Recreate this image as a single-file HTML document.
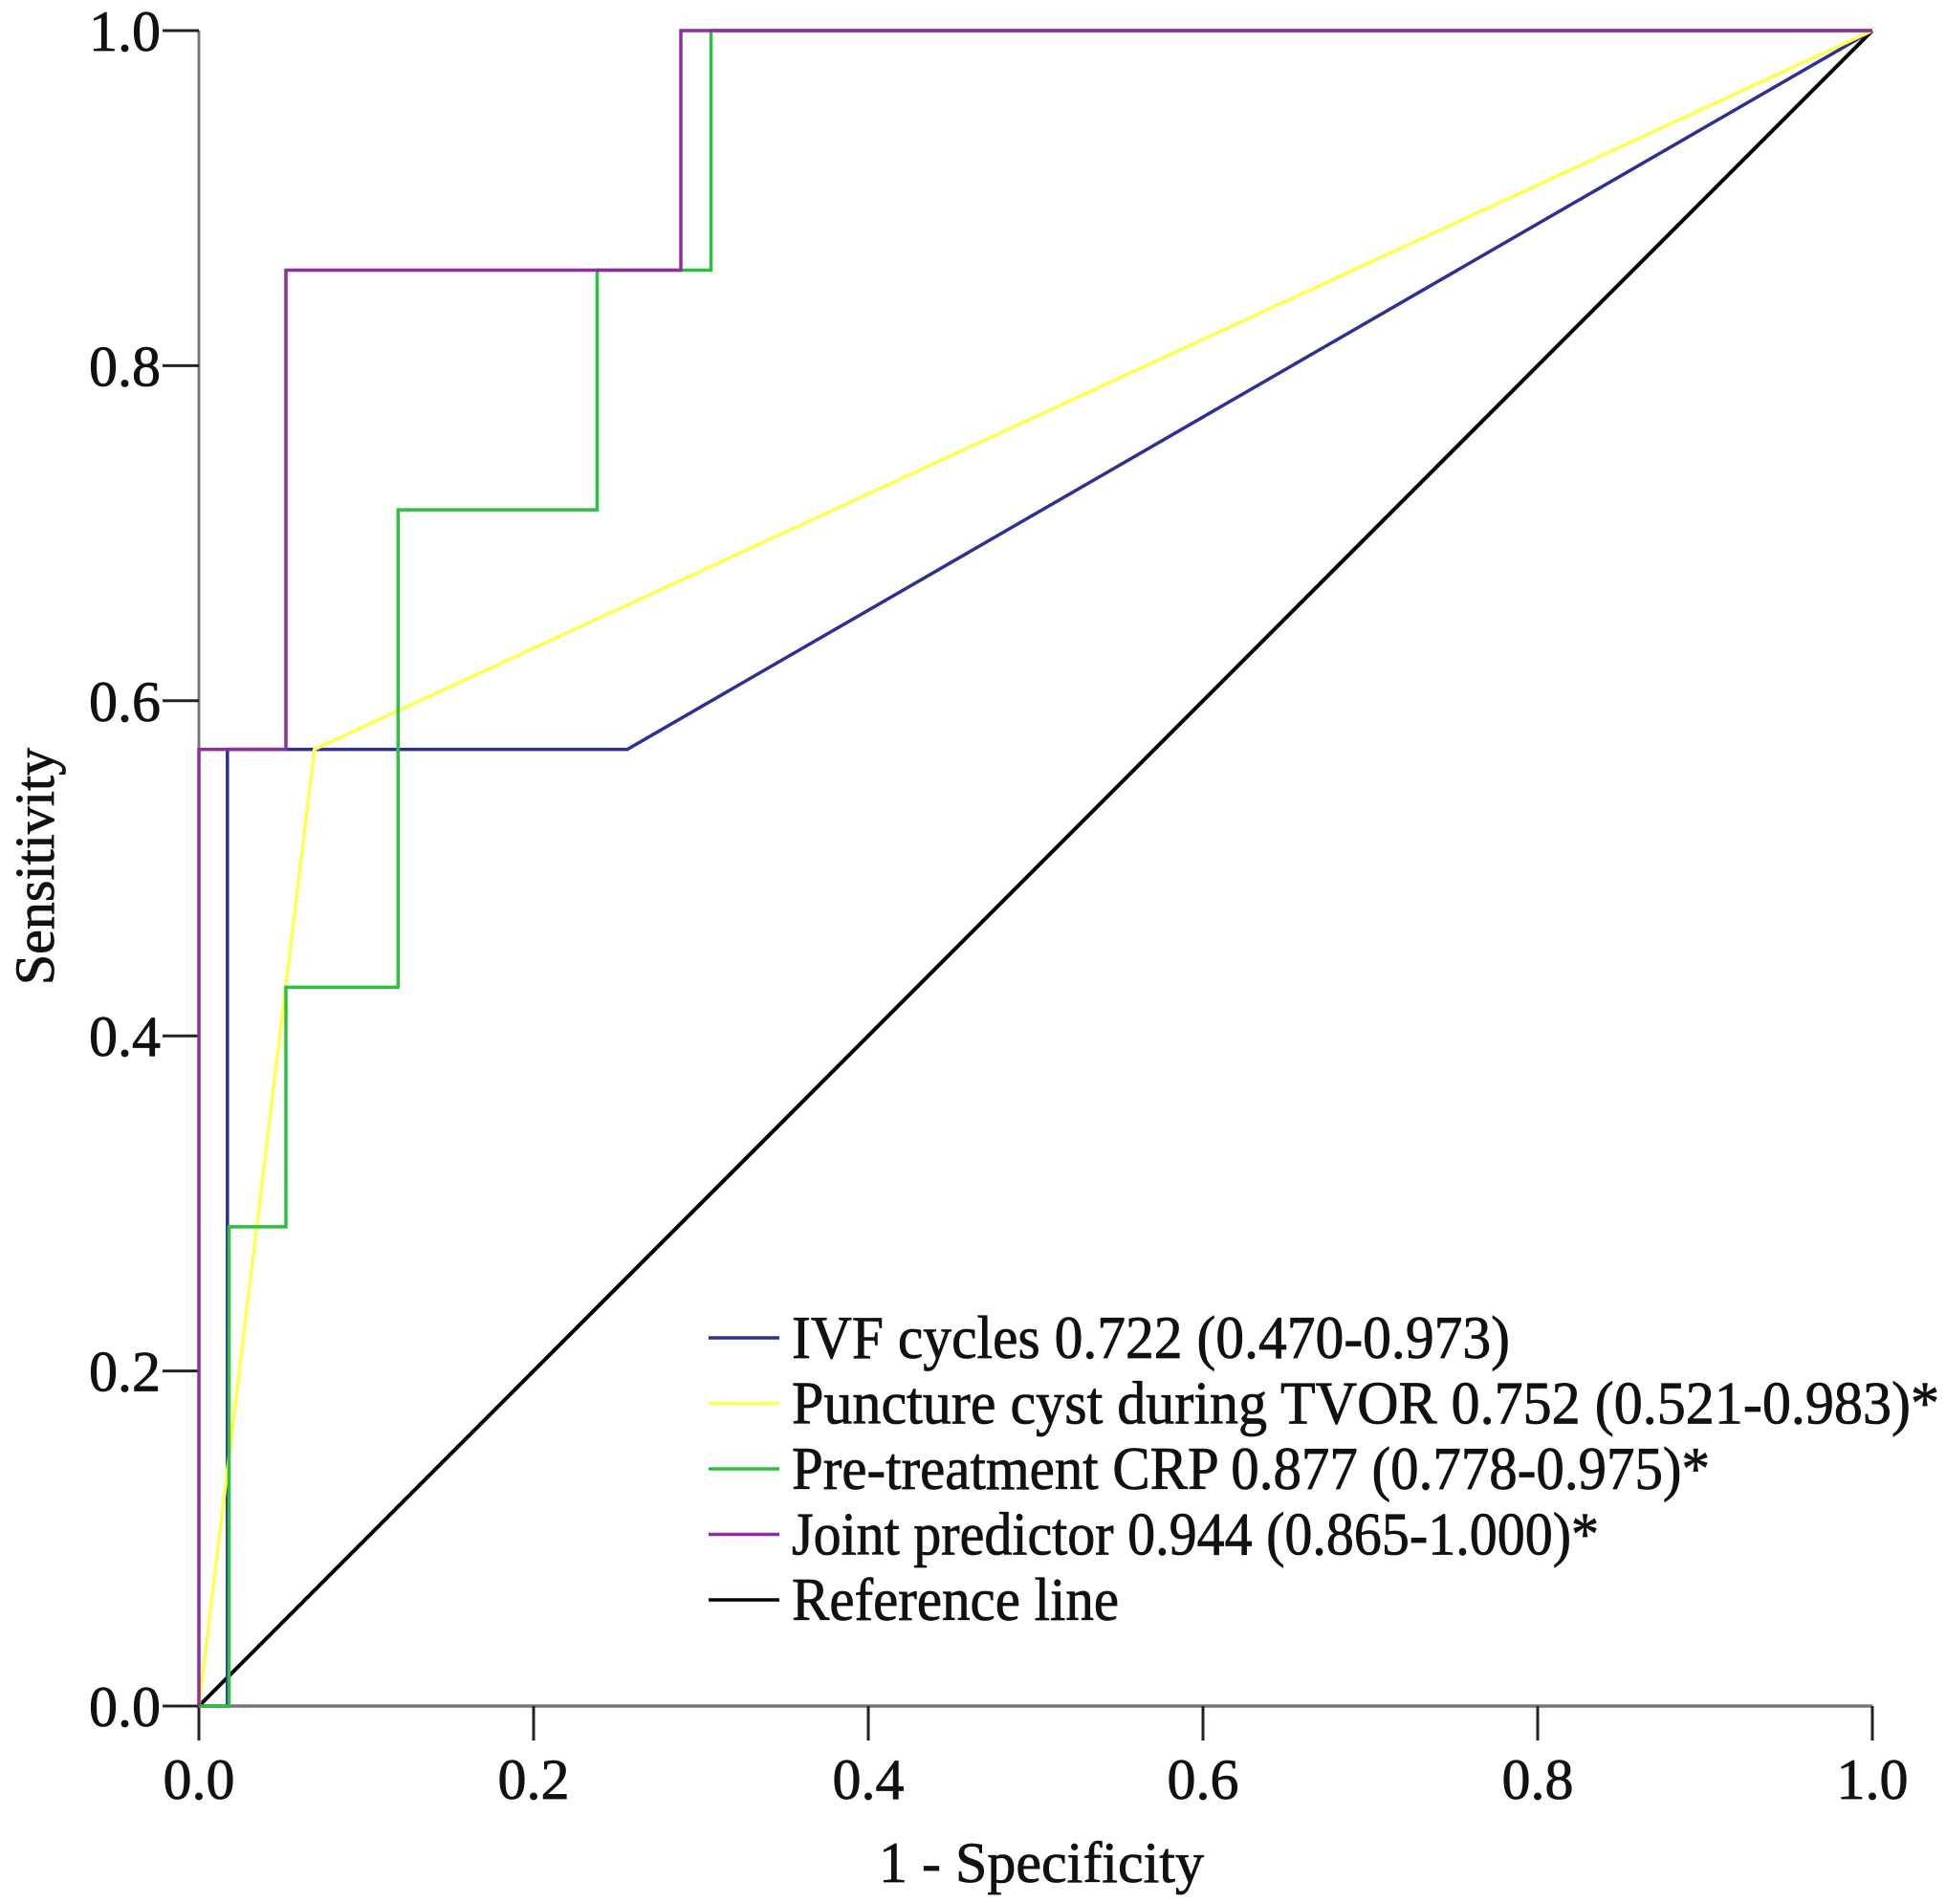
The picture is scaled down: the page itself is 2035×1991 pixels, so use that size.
<!DOCTYPE html>
<html><head><meta charset="utf-8"><style>
html,body{margin:0;padding:0;background:#fff;}
svg{display:block;font-family:"Liberation Serif",serif;}
</style></head><body>
<svg id="chart" width="2035" height="1991" viewBox="0 0 2035 1991" xmlns="http://www.w3.org/2000/svg">
<g id="axes"></g>
<g id="series"></g>
<g id="legend"></g>
</svg>
<script>
const xTicks = [0, 0.2, 0.4, 0.6, 0.8, 1.0];
const yTicks = [0, 0.2, 0.4, 0.6, 0.8, 1.0];
const tickLabels = ["0.0", "0.2", "0.4", "0.6", "0.8", "1.0"];
const seriesNames = ["IVF cycles 0.722 (0.470-0.973)", "Puncture cyst during TVOR 0.752 (0.521-0.983)*", "Pre-treatment CRP 0.877 (0.778-0.975)*", "Joint predictor  0.944 (0.865-1.000)*", "Reference line"];
const seriesColors = ["#2e3192", "#ffff4d", "#2fbf3f", "#8e2d9e", "#000000"];
const ivfX = [0, 0.017, 0.017, 0.256, 1];
const ivfY = [0, 0, 0.571, 0.571, 1];
const punctureX = [0, 0.069, 1];
const punctureY = [0, 0.571, 1];
const crpX = [0, 0.018, 0.018, 0.052, 0.052, 0.119, 0.119, 0.238, 0.238, 0.306, 0.306, 1];
const crpY = [0, 0, 0.286, 0.286, 0.429, 0.429, 0.714, 0.714, 0.857, 0.857, 1, 1];
const jointX = [0, 0, 0.052, 0.052, 0.288, 0.288, 1];
const jointY = [0, 0.571, 0.571, 0.857, 0.857, 1, 1];
const refX = [0, 1];
const refY = [0, 1];

const NS = "http://www.w3.org/2000/svg";
const X0 = 208, X1 = 1958, Y0 = 1784, Y1 = 32;
function sx(v){ return X0 + v * (X1 - X0); }
function sy(v){ return Y0 - v * (Y0 - Y1); }
function mk(tag, attrs, parent){
  const e = document.createElementNS(NS, tag);
  for (const k in attrs) e.setAttribute(k, attrs[k]);
  parent.appendChild(e);
  return e;
}
const axes = document.getElementById("axes");
const yAxis = mk("line", {x1:X0, y1:Y0, x2:X0, y2:Y1, stroke:"#777", "stroke-width":3}, axes);


const xAxis = mk("line", {x1:X0, y1:Y0, x2:X1, y2:Y0, stroke:"#777", "stroke-width":3.5}, axes);


xTicks.forEach((v, i) => {
  const t = mk("line", {x1:sx(v), y1:Y0, x2:sx(v), y2:Y0+36, stroke:"#222", "stroke-width":3}, axes);
  
  
  const l = mk("text", {x:sx(v), y:1881, "text-anchor":"middle", "font-size":60, fill:"#111", stroke:"#111", "stroke-width":0.8}, axes);
  l.textContent = tickLabels[i];
  
  
});
yTicks.forEach((v, i) => {
  const t = mk("line", {x1:X0-38, y1:sy(v), x2:X0, y2:sy(v), stroke:"#222", "stroke-width":3}, axes);
  
  
  const l = mk("text", {x:168, y:sy(v)+21, "text-anchor":"end", "font-size":60, fill:"#111", stroke:"#111", "stroke-width":0.8}, axes);
  l.textContent = tickLabels[i];
  
  
});
const xt = mk("text", {x:1089, y:1968, "text-anchor":"middle", "font-size":60, fill:"#111", stroke:"#111", "stroke-width":0.8}, axes);
xt.textContent = "1 - Specificity";


const yt = mk("text", {x:0, y:0, "text-anchor":"middle", "font-size":58, fill:"#111", stroke:"#111", "stroke-width":0.8, transform:"translate(56,906) rotate(-90)"}, axes);
yt.textContent = "Sensitivity";



const series = document.getElementById("series");
const allX = [ivfX, punctureX, crpX, jointX, refX];
const allY = [ivfY, punctureY, crpY, jointY, refY];
const sNames = ["ivf-cycles-line", "puncture-cyst-line", "crp-line", "joint-predictor-line", "reference-line"];
const order = [4, 0, 1, 2, 3];
order.forEach(i => {
  const pts = allX[i].map((x, j) => sx(x).toFixed(1) + "," + sy(allY[i][j]).toFixed(1)).join(" ");
  const p = mk("polyline", {points:pts, fill:"none", stroke:seriesColors[i], "stroke-width":i==4?4:3.5}, series);
  
  
});

const legend = document.getElementById("legend");
const textLens = [751, 1200, 960, 844, 342];
seriesNames.forEach((n, i) => {
  const yb = 1420 + i * 68.5;
  const ln = mk("line", {x1:741, y1:yb-21, x2:815, y2:yb-21, stroke:seriesColors[i], "stroke-width":3.5}, legend);
  
  
  const t = mk("text", {x:828, y:yb, "font-size":64, fill:"#111", stroke:"#111", "stroke-width":0.8, textLength:textLens[i], lengthAdjust:"spacingAndGlyphs"}, legend);
  t.textContent = n;
  
  
});
</script>
</body></html>
